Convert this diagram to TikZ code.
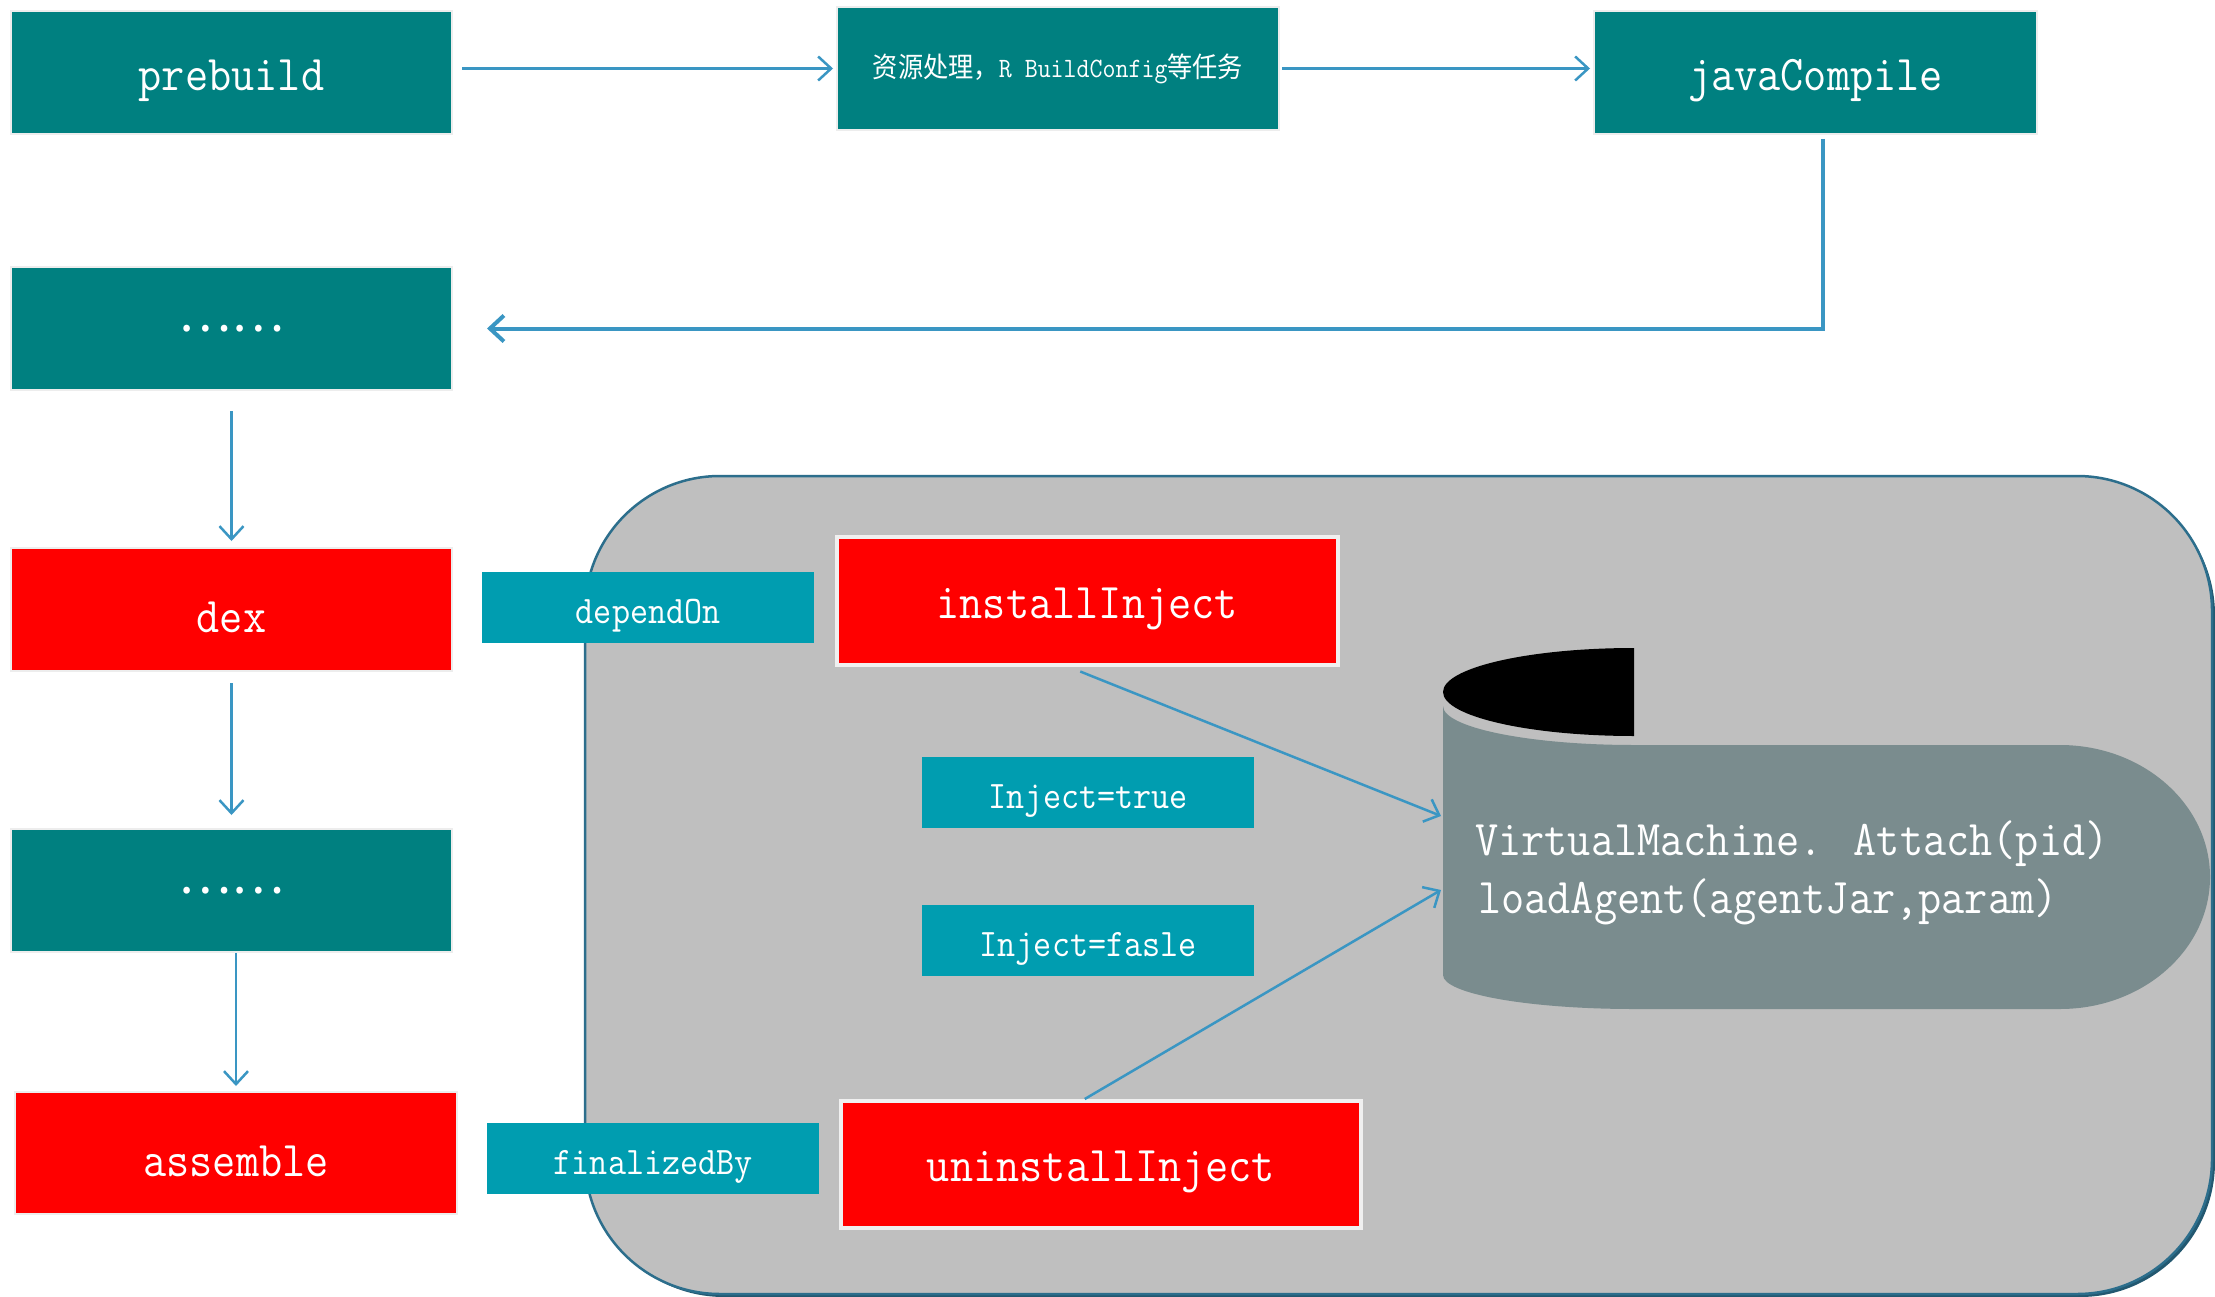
\documentclass[tikz,border=0pt]{standalone}
\usepackage{fontspec}
\usepackage{graphicx}
\newfontfamily\cjk{Noto Sans CJK SC}
\usetikzlibrary{arrows.meta}
\definecolor{tealc}{RGB}{0,128,128}
\definecolor{redc}{RGB}{255,0,0}
\definecolor{lblc}{RGB}{0,157,176}
\definecolor{arrc}{RGB}{58,150,195}
\definecolor{grayc}{RGB}{191,191,191}
\definecolor{edgec}{RGB}{44,110,140}
\definecolor{scrollc}{RGB}{122,140,142}
\newcommand\mytxt[2]{\scalebox{0.9}[1]{\fontsize{#1}{#1}\selectfont\ttfamily #2}}
\newcommand\mylbl[2]{\raisebox{-8pt}[\height][\depth]{\mytxt{#1}{#2}}}
\tikzset{
  basebox/.style={inner sep=0pt, anchor=north west, text=white},
  tealbox/.style={basebox, fill=tealc, draw=white!93!black, line width=2pt},
  redbox/.style={basebox, fill=redc, draw=white!93!black, line width=2pt},
  redinbox/.style={basebox, fill=redc, draw=white!94!black, line width=3.5pt},
  lblbox/.style={basebox, fill=lblc, minimum width=332pt, minimum height=71pt},
  mainsize/.style={minimum width=441pt, minimum height=123pt},
  arr/.style={draw=arrc, line width=2.5pt, -{Straight Barb[length=13pt,width=24pt]}},
  elbarr/.style={draw=arrc, line width=4pt, -{Straight Barb[length=14pt,width=26pt]}}
}
\begin{document}
\begin{tikzpicture}[x=1pt,y=-1pt]
\useasboundingbox (0,0) rectangle (2215,1297);
\fill[white] (0,0) rectangle (2215,1297);

% grey region
\fill[edgec!80!black, rounded corners=135pt] (589,480) rectangle (2215,1297);
\filldraw[fill=grayc, draw=edgec, line width=2.5pt, rounded corners=135pt] (585,476) rectangle (2212,1294);

% scroll shape
\fill[scrollc] (1443,706) .. controls (1443,727.5) and (1528.5,745) .. (1634,745)
  -- (2060,745) .. controls (2142.8,745) and (2210,804.1) .. (2210,877)
  .. controls (2210,949.9) and (2142.8,1009) .. (2060,1009)
  -- (1634,1009) .. controls (1528.5,1009) and (1443,993.8) .. (1443,975) -- cycle;
\fill[black] (1634,648) .. controls (1528.5,648) and (1443,667.7) .. (1443,692)
  .. controls (1443,716.3) and (1528.5,736) .. (1634,736) -- cycle;
\node[anchor=base west, inner sep=0pt, text=white] (vm1) at (1475,855) {\mytxt{50}{VirtualMachine. Attach(pid)}};
\node[anchor=base west, inner sep=0pt, text=white] (vm2) at (1478,913) {\mytxt{50}{loadAgent(agentJar,param)}};
\coordinate (sIn) at (1441,816);
\coordinate (sOut) at (1441,890);

% left column
\node[tealbox, mainsize] (pre) at (10,10) {\mylbl{50}{prebuild}};
\node[tealbox, minimum width=442pt, minimum height=123pt] (res) at (836,6)
  {\scalebox{0.9}[1]{\fontsize{28}{28}\selectfont{\cjk 资源处理，}{\ttfamily R BuildConfig}{\cjk 等任务}}};
\node[tealbox, minimum width=443pt, minimum height=123pt] (java) at (1593,10) {\mylbl{50}{javaCompile}};
\node[tealbox, mainsize] (dots1) at (10,266) {\fontsize{50}{50}\selectfont\cjk ……};
\node[redbox, mainsize] (dex) at (10,547) {\mylbl{50}{dex}};
\node[tealbox, mainsize] (dots2) at (10,828) {\fontsize{50}{50}\selectfont\cjk ……};
\node[redbox, minimum width=442pt, minimum height=122pt] (asm) at (14,1091) {\mylbl{50}{assemble}};

% inner nodes
\node[lblbox] (dep) at (482,572) {\mylbl{39}{dependOn}};
\node[redinbox, minimum width=501pt, minimum height=128pt] (inst) at (835,535) {\mylbl{50}{installInject}};
\node[lblbox] (injt) at (922,757) {\mylbl{39}{Inject=true}};
\node[lblbox] (injf) at (922,905) {\mylbl{39}{Inject=fasle}};
\node[redinbox, minimum width=520pt, minimum height=127pt] (uninst) at (839,1099) {\mylbl{50}{uninstallInject}};
\node[lblbox] (fin) at (487,1123) {\mylbl{39}{finalizedBy}};

% connectors
\draw[arr, shorten <=9pt, shorten >=3pt] (pre.east |- res.west) -- (res.west);
\draw[arr, shorten <=2pt, shorten >=3pt] (res.east) -- (java.west |- res.east);
\draw[elbarr] ([xshift=7pt,yshift=-4pt]java.south) |- ([xshift=34pt]dots1.east);
\draw[arr, shorten <=20pt, shorten >=6pt] (dots1.south) -- (dex.north);
\draw[arr, shorten <=11pt, shorten >=13pt] (dex.south) -- (dots2.north);
\draw[arr, shorten >=5pt] (dots2.south -| asm.north) -- (asm.north);
\draw[arr] ([xshift=-7pt,yshift=-5pt]inst.south) -- (sIn);
\draw[arr] ([xshift=-16pt]uninst.north) -- (sOut);
\end{tikzpicture}
\end{document}
